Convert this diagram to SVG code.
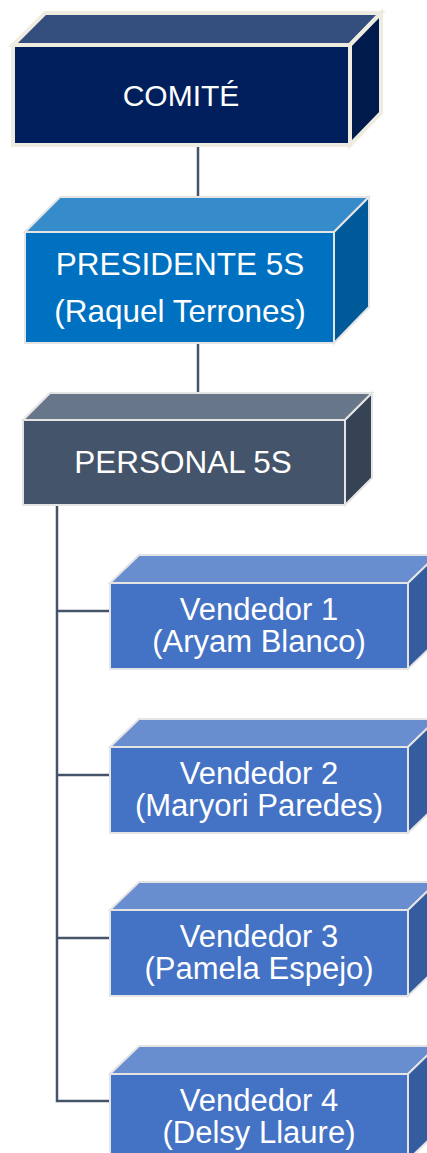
<svg xmlns="http://www.w3.org/2000/svg" width="427" height="1153" viewBox="0 0 427 1153">
<style>
text{font-family:"Liberation Sans",Arial,sans-serif;font-size:31px;fill:#FFFFFF;text-anchor:middle}
.cm{font-size:30px}
.big{font-size:31.5px}
.conn{stroke:#44546A;stroke-width:2.5;fill:none}
.b{stroke:#E4E4E4;stroke-width:2;stroke-linejoin:miter}
.c{stroke:#EEECE1;stroke-width:4;stroke-linejoin:miter}
.vt{fill:#698ED0}.vf{fill:#4472C4}.vr{fill:#345C9F}
</style>
<rect width="427" height="1153" fill="#FFFFFF"/>
<g id="connectors">
<line class="conn" x1="198" y1="147" x2="198" y2="197"/>
<line class="conn" x1="198" y1="343" x2="198" y2="393"/>
<polyline class="conn" points="57,505 57,1101 110,1101"/>
<line class="conn" x1="57" y1="611" x2="110" y2="611"/>
<line class="conn" x1="57" y1="775" x2="110" y2="775"/>
<line class="conn" x1="57" y1="938" x2="110" y2="938"/>
</g>
<g id="comite">
<polygon class="c" points="13,45 45,13 381,13 350,45" fill="#344E7E"/>
<polygon class="c" points="350,45 381,13 381,113 350,145" fill="#001A4B"/>
<rect class="c" x="13" y="45" width="337" height="100" fill="#001F5C"/>
<text class="cm" x="181" y="106">COMITÉ</text>
</g>
<g id="presidente">
<polygon class="b" points="25,232 60,197 369,197 334,232" fill="#368BCB"/>
<polygon class="b" points="334,232 369,197 369,307 334,343" fill="#005A9A"/>
<rect class="b" x="25" y="232" width="309" height="111" fill="#0070C0"/>
<text class="big" x="180" y="275">PRESIDENTE 5S</text>
<text class="big" x="180" y="322">(Raquel Terrones)</text>
</g>
<g id="personal">
<polygon class="b" points="23,420 50,393 372,393 345,420" fill="#687689"/>
<polygon class="b" points="345,420 372,393 372,478 345,505" fill="#364355"/>
<rect class="b" x="23" y="420" width="322" height="85" fill="#44546A"/>
<text class="big" x="183" y="473">PERSONAL 5S</text>
</g>
<g id="vendedor1">
<polygon class="b vt" points="110,583 139,555 437,555 408,583"/>
<polygon class="b vr" points="408,583 437,555 437,641 408,669"/>
<rect class="b vf" x="110" y="583" width="298" height="86"/>
<text x="259" y="620">Vendedor 1</text>
<text x="259" y="652">(Aryam Blanco)</text>
</g>
<g id="vendedor2">
<polygon class="b vt" points="110,747 139,719 437,719 408,747"/>
<polygon class="b vr" points="408,747 437,719 437,805 408,833"/>
<rect class="b vf" x="110" y="747" width="298" height="86"/>
<text x="259" y="784">Vendedor 2</text>
<text x="259" y="816">(Maryori Paredes)</text>
</g>
<g id="vendedor3">
<polygon class="b vt" points="110,910 139,882 437,882 408,910"/>
<polygon class="b vr" points="408,910 437,882 437,968 408,996"/>
<rect class="b vf" x="110" y="910" width="298" height="86"/>
<text x="259" y="947">Vendedor 3</text>
<text x="259" y="979">(Pamela Espejo)</text>
</g>
<g id="vendedor4">
<polygon class="b vt" points="110,1074 139,1046 437,1046 408,1074"/>
<polygon class="b vr" points="408,1074 437,1046 437,1132 408,1160"/>
<rect class="b vf" x="110" y="1074" width="298" height="86"/>
<text x="259" y="1111">Vendedor 4</text>
<text x="259" y="1143">(Delsy Llaure)</text>
</g>
</svg>
